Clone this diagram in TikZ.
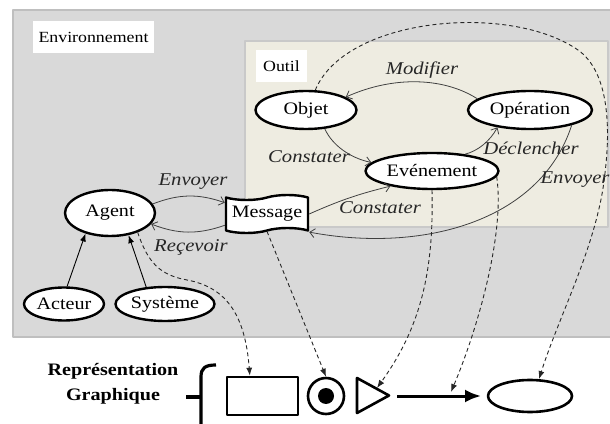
\documentclass[tikz,border=0pt]{standalone}
\usepackage{fontspec}
\setmainfont{Liberation Serif}[FakeStretch=1.15]
\usetikzlibrary{shapes.geometric,shapes.symbols,arrows.meta}
\definecolor{envgray}{HTML}{D9D9D9}
\definecolor{envedge}{HTML}{BFBFBF}
\definecolor{outilbg}{HTML}{EEECE1}
\definecolor{outiledge}{HTML}{C9C9C9}
\definecolor{flowgray}{HTML}{404040}
\tikzset{
  concept/.style={ellipse,draw=black,fill=white,line width=2.4pt,inner sep=0pt},
  boxlabel/.style={fill=white,inner sep=0pt,font=\fontsize{15.5}{17}\selectfont},
  flow/.style={draw=flowgray,line width=.8pt,-{Straight Barb[length=5pt,width=9pt]}},
  verb/.style={font=\fontsize{18}{20}\selectfont\itshape,text=black!85},
  link/.style={draw=black!85,line width=.9pt,dash pattern=on 4pt off 3pt,-{Latex[length=8pt,width=6pt]}},
  glyph/.style={draw=black,line width=2.6pt,fill=white}
}
\begin{document}
\begin{tikzpicture}[x=1pt,y=1pt,line join=round,font=\fontsize{17.5}{19}\selectfont]
\useasboundingbox (0,0) rectangle (610,423);
\fill[white] (0,0) rectangle (610,423);
\draw[envedge,fill=envgray,line width=2.5pt] (13,413) rectangle (616,86);
\node[boxlabel,minimum width=121,minimum height=32] (env) at (93.5,386) {Environnement};
\draw[outiledge,fill=outilbg,line width=2pt] (245,382) rectangle (608,196);
\node[boxlabel,minimum width=51,minimum height=32] (outil) at (281.5,357) {Outil};
\node[concept,minimum width=101,minimum height=38] (objet) at (306,313) {Objet};
\node[concept,minimum width=124,minimum height=38] (operation) at (530,313) {Opération};
\node[concept,minimum width=133,minimum height=36] (evenement) at (432,252) {Evénement};
\node[concept,minimum width=90,minimum height=46] (agent) at (110,210) {Agent};
\node[tape,draw=black,fill=white,line width=2.4pt,minimum width=82,minimum height=38,inner sep=1pt] (message) at (267,209) {Message};
\node[concept,minimum width=80,minimum height=33] (acteur) at (64,119) {Acteur};
\node[concept,minimum width=99,minimum height=34] (systeme) at (165,119) {Système};
\draw[flow] (operation.168) .. controls (445,345) and (395,348) .. (objet.18);
\draw[flow] (objet.-45) .. controls (332,278) and (350,265) .. (evenement.172);
\draw[flow] (evenement.27) .. controls (478,272) and (490,282) .. (operation.-152);
\draw[flow] (operation.-20) .. controls (540,200) and (420,170) .. (message.south east);
\draw[flow] (message.east) to[bend left=5] (evenement.-160);
\draw[flow] (agent.12) to[bend left=20] (message.165);
\draw[flow] (message.195) to[bend left=20] (agent.-15);
\draw[line width=.9pt,-{Latex[length=8pt,width=6pt]}] (acteur.80) -- (agent.-140);
\draw[line width=.9pt,-{Latex[length=8pt,width=6pt]}] (systeme.138) -- (agent.-50);
\node[verb] (modifier) at (422,353) {Modifier};
\node[verb] (constater1) at (309,266) {Constater};
\node[verb] (declencher) at (531,275) {Déclencher};
\node[verb] (envoyer1) at (575,243) {Envoyer};
\node[verb] (constater2) at (380,215) {Constater};
\node[verb] (envoyer2) at (193,241) {Envoyer};
\node[verb] (recevoir) at (191,176) {Reçevoir};
\node[font=\fontsize{17.5}{25}\selectfont\bfseries,align=center] (legend) at (113,39) {Représentation\\Graphique};
\draw[line width=3.2pt] (216,58) .. controls (205,58) and (201,55) .. (201,46) -- (201,-2);
\draw[line width=3.2pt] (186,26) -- (201,26);
\node[glyph,minimum width=71,minimum height=38] (grect) at (262.5,27) {};
\node[glyph,circle,minimum size=36] (gcirc) at (326,27) {};
\fill (gcirc.center) circle (8);
\draw[glyph] (357,45) -- (357,10) -- (389,27.5) -- cycle;
\coordinate (gtri) at (377,35);
\coordinate (garrowa) at (397,27);
\coordinate (garrowb) at (481,27);
\coordinate (garrowmid) at (451,31);
\draw[line width=3pt,-{Latex[length=16pt,width=13pt]}] (garrowa) -- (garrowb);
\node[glyph,ellipse,minimum width=84,minimum height=32] (gell) at (530,27) {};
\draw[link] (agent.-35) .. controls (148,160) and (160,148) .. (187,143) .. controls (225,136) and (245,110) .. (grect.122);
\draw[link] (message.south) -- (gcirc.north);
\draw[link] (evenement.south) .. controls (434,150) and (420,95) .. (gtri);
\draw[link] (evenement.-5) .. controls (505,190) and (478,95) .. (garrowmid);
\draw[link] (objet.65) .. controls (345,405) and (505,420) .. (575,375) .. controls (608,355) and (611,300) .. (605,250) .. controls (598,180) and (560,110) .. (gell.62);
\end{tikzpicture}
\end{document}
